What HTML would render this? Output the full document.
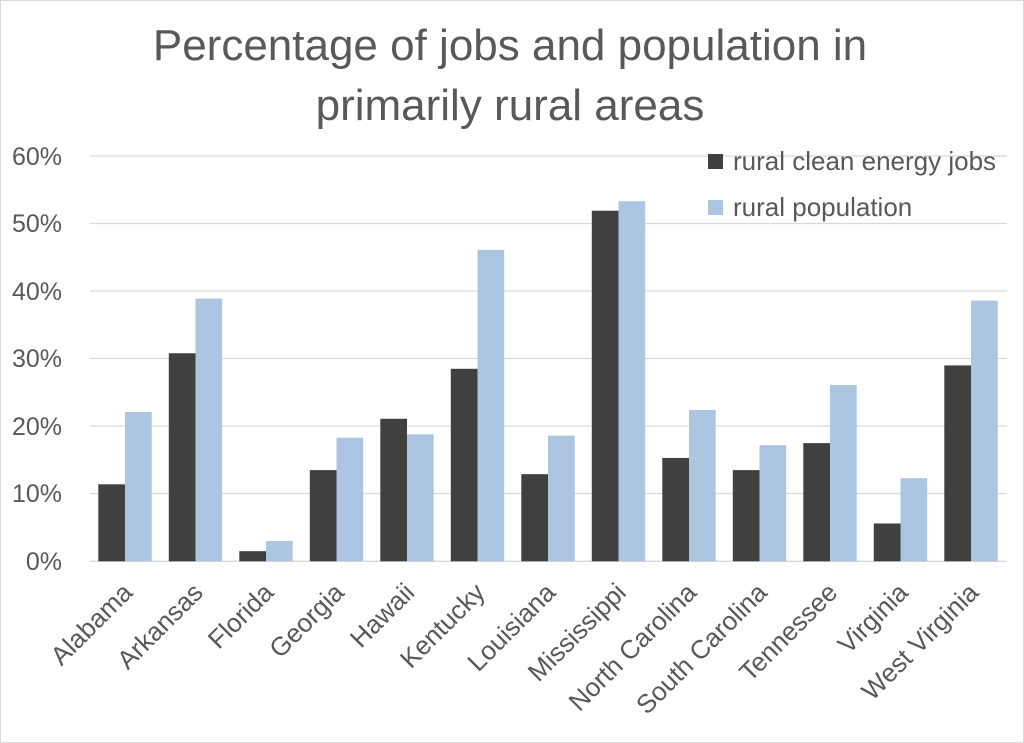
<!DOCTYPE html>
<html><head><meta charset="utf-8"><style>
html,body{margin:0;padding:0;background:#fff;}
svg{display:block;font-family:"Liberation Sans",Calibri,sans-serif;}
</style></head><body>
<svg width="1024" height="743" viewBox="0 0 1024 743" xmlns="http://www.w3.org/2000/svg">
<rect x="0.5" y="0.5" width="1023" height="742" fill="#fff" stroke="#d9d9d9"/>
<text x="510" y="60" text-anchor="middle" font-size="44" fill="#595959">Percentage of jobs and population in</text>
<text x="510" y="120" text-anchor="middle" font-size="44" fill="#595959">primarily rural areas</text>
<g stroke="#d9d9d9" stroke-width="1.3">
<line x1="90" x2="1007" y1="156" y2="156"/><line x1="90" x2="1007" y1="223.5" y2="223.5"/>
<line x1="90" x2="1007" y1="291" y2="291"/><line x1="90" x2="1007" y1="358.5" y2="358.5"/>
<line x1="90" x2="1007" y1="426" y2="426"/><line x1="90" x2="1007" y1="493.5" y2="493.5"/>
<line x1="90" x2="1007" y1="561.3" y2="561.3"/>
</g>
<g font-size="25" fill="#595959" text-anchor="end">
<text x="62" y="165">60%</text><text x="62" y="232">50%</text><text x="62" y="300">40%</text>
<text x="62" y="367">30%</text><text x="62" y="435">20%</text><text x="62" y="502">10%</text>
<text x="62" y="570">0%</text>
</g>
<g id="bars"></g>
<g id="labels" font-size="26" fill="#595959" text-anchor="end"></g>
<rect x="708" y="154" width="15" height="15" fill="#404040"/>
<text x="733" y="170" font-size="26" fill="#595959">rural clean energy jobs</text>
<rect x="708" y="200" width="15" height="15" fill="#abc5e2"/>
<text x="733" y="216" font-size="26" fill="#595959">rural population</text>
<script>
var d=[["Alabama",11.4,22.1],["Arkansas",30.8,38.9],["Florida",1.5,3.0],["Georgia",13.5,18.3],["Hawaii",21.1,18.8],["Kentucky",28.5,46.1],["Louisiana",12.9,18.6],["Mississippi",51.9,53.3],["North Carolina",15.3,22.4],["South Carolina",13.5,17.2],["Tennessee",17.5,26.1],["Virginia",5.6,12.3],["West Virginia",29.0,38.6]];
var ns="http://www.w3.org/2000/svg",b=document.getElementById("bars"),l=document.getElementById("labels");
var y0=561.3,k=6.755;
d.forEach(function(r,i){var x=90+i*70.5+8.3;
[[r[1],"#404040",0],[r[2],"#abc5e2",26.7]].forEach(function(s){var e=document.createElementNS(ns,"rect");var h=s[0]*k;
e.setAttribute("x",x+s[2]);e.setAttribute("y",y0-h);e.setAttribute("width",26.7);e.setAttribute("height",h);e.setAttribute("fill",s[1]);b.appendChild(e);});
var t=document.createElementNS(ns,"text");var cx=90+i*70.5+44;t.setAttribute("transform","translate("+cx+",594) rotate(-45)");t.textContent=r[0];l.appendChild(t);});
</script>
</svg>
</body></html>
